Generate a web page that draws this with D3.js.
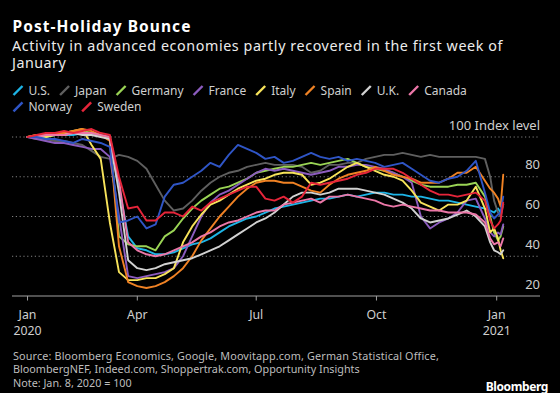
<!DOCTYPE html>
<html><head><meta charset="utf-8">
<script src="https://cdn.jsdelivr.net/npm/d3@7"></script>
<style>html,body{margin:0;padding:0;background:#000;} svg{display:block;font-family:"Noto Sans",sans-serif;}</style>
</head><body><svg id="c" width="560" height="393"></svg>
<script>
// ---------- text ----------
const titleText = "Post-Holiday Bounce";
const subtitleLines = ["Activity in advanced economies partly recovered in the first week of", "January"];
const sourceLines = [
  "Source: Bloomberg Economics, Google, Moovitapp.com, German Statistical Office,",
  "BloombergNEF, Indeed.com, Shoppertrak.com, Opportunity Insights",
  "Note: Jan. 8, 2020 = 100"
];
const unitLabel = "Index level";

// ---------- categories ----------
const seriesNames = ["U.S.","Japan","Germany","France","Italy","Spain","U.K.","Canada","Norway","Sweden"];
const seriesColors = ["#1db4e6","#5f5f5f","#9ad455","#8c5cbf","#f7e35a","#f08224","#d2d2d2","#ec77a8","#2f55c6","#e6253a"];

// dates: weekly from Jan 8 2020 to Dec 23 2020, then holiday-period dates
const weeklyStart = "2020-01-08";
const weeklyCount = 51;
const endDates = ["2020-12-27","2020-12-30","2021-01-02","2021-01-04","2021-01-06"];

// x-axis ticks
const tickDates = ["2020-01-08","2020-04-01","2020-07-01","2020-10-01","2021-01-01"];
const tickLabels = [["Jan","2020"],["Apr"],["Jul"],["Oct"],["Jan","2021"]];
const yTicks = [20,40,60,80,100];

// ---------- series values (index, Jan 8 2020 = 100) ----------
const us = [100,100,100,101,101,101,102,101,101,100,
  75,50,44,43,41,41,42,44,46,47,
  49,52,55,57,59,60,62,64,65,66,
  67,68,69,69,70,71,70,71,72,72,
  71,71,70,70,69,68,68,67,66,65,
  64, 63,62,64,62,66];
const japan = [100,99,99,98,98,97,96,93,90,89,
  91,90,88,84,76,68,63,64,68,73,
  77,80,82,83,85,86,87,86,86,86,
  85,82,83,86,86,87,87,89,90,91,
  91,92,91,90,91,90,90,90,90,90,
  89, 80,68,62,60,66];
const germany = [100,100,101,101,102,102,103,102,101,99,
  50,46,45,45,43,50,53,59,64,68,
  71,74,75,77,79,82,83,84,85,85,
  86,87,86,87,88,89,87,85,84,83,
  82,80,78,76,75,75,75,76,76,77,
  70, 60,52,48,50,55];
const france = [100,99,98,97,97,96,95,94,94,90,
  60,30,29,30,31,32,34,40,50,60,
  67,71,73,76,79,82,84,83,84,83,
  82,81,82,83,85,85,86,86,85,84,
  82,80,77,60,54,57,59,62,68,69,
  59, 52,50,52,51,56];
const italy = [100,101,100,101,102,103,104,96,89,57,
  32,28,28,29,29,31,34,47,55,61,
  66,68,71,74,76,78,79,81,82,82,
  81,76,77,79,82,85,87,85,83,81,
  80,78,73,67,65,63,66,66,68,75,
  64, 52,54,49,43,39];
const spain = [100,101,101,102,102,103,104,103,101,98,
  45,27,25,24,25,27,30,34,40,48,
  54,60,65,70,74,77,78,78,77,77,
  75,73,72,76,79,81,82,83,85,83,
  81,80,79,77,77,77,79,82,82,85,
  78, 74,72,69,65,81];
const uk = [100,100,101,101,101,102,101,101,100,99,
  72,38,34,33,34,36,37,38,39,41,
  43,45,48,51,54,57,59,62,66,70,
  72,72,71,72,74,74,74,73,72,71,
  69,67,64,59,57,58,59,61,63,60,
  55, 47,43,42,41,43];
const canada = [100,100,101,101,101,102,102,102,101,100,
  78,47,43,41,40,41,43,45,47,50,
  52,55,57,58,60,62,63,63,66,67,
  68,69,67,70,70,71,70,69,68,66,
  65,66,65,64,63,63,62,62,62,61,
  57, 49,46,47,45,49];
const norway = [100,100,99,99,98,97,99,98,97,95,
  57,58,60,54,56,70,76,77,80,83,
  87,85,91,96,94,92,89,90,87,88,
  90,92,90,89,90,88,89,88,87,85,
  86,87,84,81,78,77,79,80,83,88,
  72, 62,59,61,62,70];
const sweden = [100,101,102,102,103,102,103,104,102,101,
  80,64,65,58,58,62,62,60,65,63,
  67,69,71,73,75,75,69,68,70,67,
  70,77,76,77,78,79,81,82,84,84,
  84,82,79,76,73,71,71,70,71,72,
  68, 58,54,56,58,67];
const seriesValues = [us,japan,germany,france,italy,spain,uk,canada,norway,sweden];

// ---------- build ----------
const parse = d3.timeParse("%Y-%m-%d");
const start = parse(weeklyStart);
const dates = d3.range(weeklyCount).map(k => d3.timeDay.offset(start, 7*k)).concat(endDates.map(parse));

const W = 560, H = 393;
const plotLeft = 12, plotRight = 540;
const svg = d3.select("#c");
svg.append("rect").attr("width",W).attr("height",H).attr("fill","#000");

const x = d3.scaleTime().domain([parse("2020-04-01"), parse("2021-01-01")]).range([137.3, 496.7]);
const y = d3.scaleLinear().domain([20,100]).range([296,137]);

// stretch text to a target width via letter-spacing
function fitWidth(sel, target) {
  const w = sel.node().getComputedTextLength();
  const n = sel.text().length;
  sel.attr("letter-spacing", ((target - w) / n).toFixed(3));
}

// title
const tt = svg.append("text").attr("x",12.5).attr("y",32).attr("fill","#fff")
  .attr("font-size",15.5).attr("font-weight","bold").text(titleText);
fitWidth(tt, 179);
subtitleLines.forEach((t,i)=>{
  const s = svg.append("text").attr("x",12).attr("y",50.5+17.5*i).attr("fill","#ececec")
    .attr("font-size",14.3).text(t);
  if (i === 0) fitWidth(s, 491);
  else s.attr("letter-spacing", 0.5);
});

// legend (flow layout)
const legendG = svg.append("g");
let lx = 13, ly = 95;
const legendMax = 500;
seriesNames.forEach((name,i)=>{
  const g = legendG.append("g");
  const t = g.append("text").attr("fill","#cfcfcf").attr("font-size",12).text(name);
  const tw = t.node().getComputedTextLength();
  if (lx + 16 + tw > legendMax) { lx = 13; ly += 16.3; }
  g.append("line").attr("x1",lx+0.5).attr("y1",ly).attr("x2",lx+9.5).attr("y2",ly-9)
    .attr("stroke",seriesColors[i]).attr("stroke-width",2.4);
  t.attr("x",lx+15.5).attr("y",ly);
  lx += 15.5 + tw + 9.5;
});

// gridlines
const gridG = svg.append("g");
yTicks.filter(v=>v>20).forEach(v=>{
  gridG.append("line").attr("x1",plotLeft).attr("x2",plotRight).attr("y1",y(v)).attr("y2",y(v))
    .attr("stroke","#808080").attr("stroke-width",1).attr("stroke-dasharray","1.2,2.6");
});
yTicks.forEach(v=>{
  svg.append("text").attr("x",plotRight).attr("y",y(v)-7.5).attr("text-anchor","end")
    .attr("fill","#cfcfcf").attr("font-size",13)
    .text(v===100 ? v + " " + unitLabel : v);
});

// lines
const line = d3.line().x((d,i)=>x(dates[i])).y(d=>y(d)).curve(d3.curveLinear);
const linesG = svg.append("g");
seriesValues.forEach((vals,i)=>{
  linesG.append("path").attr("d",line(vals)).attr("fill","none")
    .attr("stroke",seriesColors[i]).attr("stroke-width",1.9)
    .attr("stroke-linejoin","round").attr("stroke-linecap","round");
});

// x axis
svg.append("line").attr("x1",plotLeft).attr("x2",plotRight).attr("y1",y(20)).attr("y2",y(20))
  .attr("stroke","#a0a0a0").attr("stroke-width",1);
tickDates.forEach((ds,i)=>{
  const tx = x(parse(ds));
  svg.append("line").attr("x1",tx).attr("x2",tx).attr("y1",y(20)).attr("y2",y(20)+4.5)
    .attr("stroke","#a0a0a0").attr("stroke-width",1);
  tickLabels[i].forEach((lab,j)=>{
    svg.append("text").attr("x",tx).attr("y",318.5+16*j).attr("text-anchor","middle")
      .attr("fill","#cfcfcf").attr("font-size",12.3).text(lab);
  });
});

// source
sourceLines.forEach((t,i)=>{
  const s = svg.append("text").attr("x",13).attr("y",359.5+13.8*i).attr("fill","#bdbdbd")
    .attr("font-size",10.8).text(t);
  if (i === 0) fitWidth(s, 426);
});
svg.append("text").attr("x",548).attr("y",390.5).attr("text-anchor","end")
  .attr("fill","#fff").attr("font-size",12).attr("font-weight","bold")
  .attr("letter-spacing",-0.4).text("Bloomberg");
</script></body></html>
